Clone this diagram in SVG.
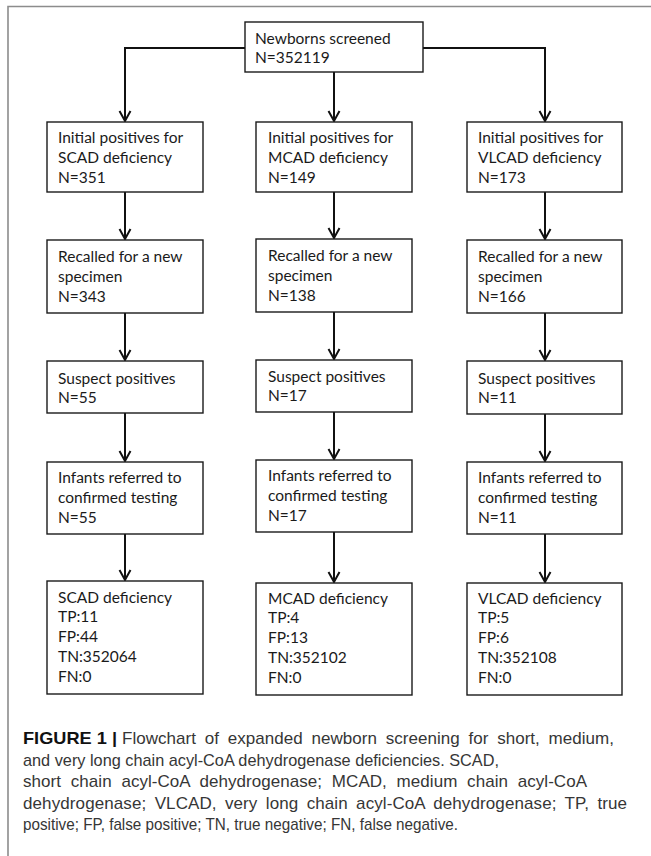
<svg xmlns="http://www.w3.org/2000/svg" width="651" height="856" viewBox="0 0 651 856">
<style>
.box{fill:#fff;stroke:#1a1a1a;stroke-width:1.4}
.t{font-family:Lato,"Liberation Sans",sans-serif;font-size:15.5px;fill:#1a1a1a}
.c{stroke:#111;stroke-width:2;fill:none}
.cap{font-family:"Liberation Sans",Arial,sans-serif;font-size:17px;fill:#363636}
.capb{font-family:"Liberation Sans",Arial,sans-serif;font-size:17px;font-weight:bold;fill:#111}
</style>
<defs>
<marker id="ah" markerUnits="userSpaceOnUse" markerWidth="20" markerHeight="20" refX="0" refY="0" orient="auto" overflow="visible">
<path d="M-10,-5.5 L0,0 L-10,5.5" fill="none" stroke="#111" stroke-width="2"/>
</marker>
</defs>
<rect width="651" height="856" fill="#fff"/>
<path d="M8,856 V6.5 H651" fill="none" stroke="#8c8c8c" stroke-width="1.6"/>

<g id="connectors">
<path class="c" d="M245,48 H125 V121" marker-end="url(#ah)"/>
<path class="c" d="M423,48 H545 V121" marker-end="url(#ah)"/>
<path class="c" d="M334,72 V121" marker-end="url(#ah)"/>
<path class="c" d="M125,192 V239" marker-end="url(#ah)"/>
<path class="c" d="M125,313 V360" marker-end="url(#ah)"/>
<path class="c" d="M125,413 V461" marker-end="url(#ah)"/>
<path class="c" d="M125,534 V580" marker-end="url(#ah)"/>
<path class="c" d="M334,192 V238" marker-end="url(#ah)"/>
<path class="c" d="M334,312 V359" marker-end="url(#ah)"/>
<path class="c" d="M334,412 V459" marker-end="url(#ah)"/>
<path class="c" d="M334,532 V582" marker-end="url(#ah)"/>
<path class="c" d="M545,192 V239" marker-end="url(#ah)"/>
<path class="c" d="M545,313 V360" marker-end="url(#ah)"/>
<path class="c" d="M545,414 V461" marker-end="url(#ah)"/>
<path class="c" d="M545,534 V582" marker-end="url(#ah)"/>
</g>

<g id="n_top"><rect class="box" x="245" y="22" width="178" height="50"/>
<text class="t" x="255" y="44">Newborns screened</text><text class="t" x="255" y="63">N=352119</text></g>

<g id="n_s1"><rect class="box" x="47" y="122" width="156" height="70"/>
<text class="t" x="58" y="143">Initial positives for</text><text class="t" x="58" y="163">SCAD deficiency</text><text class="t" x="58" y="183">N=351</text></g>
<g id="n_m1"><rect class="box" x="256" y="122" width="156" height="70"/>
<text class="t" x="268" y="143">Initial positives for</text><text class="t" x="268" y="163">MCAD deficiency</text><text class="t" x="268" y="183">N=149</text></g>
<g id="n_v1"><rect class="box" x="467" y="122" width="155" height="70"/>
<text class="t" x="478" y="143">Initial positives for</text><text class="t" x="478" y="163">VLCAD deficiency</text><text class="t" x="478" y="183">N=173</text></g>

<g id="n_s2"><rect class="box" x="47" y="240" width="156" height="73"/>
<text class="t" x="58" y="262">Recalled for a new</text><text class="t" x="58" y="282">specimen</text><text class="t" x="58" y="302">N=343</text></g>
<g id="n_m2"><rect class="box" x="256" y="239" width="156" height="73"/>
<text class="t" x="268" y="261">Recalled for a new</text><text class="t" x="268" y="281">specimen</text><text class="t" x="268" y="301">N=138</text></g>
<g id="n_v2"><rect class="box" x="467" y="240" width="155" height="73"/>
<text class="t" x="478" y="262">Recalled for a new</text><text class="t" x="478" y="282">specimen</text><text class="t" x="478" y="302">N=166</text></g>

<g id="n_s3"><rect class="box" x="47" y="361" width="156" height="52"/>
<text class="t" x="58" y="384">Suspect positives</text><text class="t" x="58" y="403">N=55</text></g>
<g id="n_m3"><rect class="box" x="256" y="360" width="156" height="52"/>
<text class="t" x="268" y="382">Suspect positives</text><text class="t" x="268" y="401">N=17</text></g>
<g id="n_v3"><rect class="box" x="467" y="361" width="155" height="53"/>
<text class="t" x="478" y="384">Suspect positives</text><text class="t" x="478" y="403">N=11</text></g>

<g id="n_s4"><rect class="box" x="47" y="462" width="156" height="72"/>
<text class="t" x="58" y="483">Infants referred to</text><text class="t" x="58" y="503">confirmed testing</text><text class="t" x="58" y="523">N=55</text></g>
<g id="n_m4"><rect class="box" x="256" y="460" width="156" height="72"/>
<text class="t" x="268" y="481">Infants referred to</text><text class="t" x="268" y="501">confirmed testing</text><text class="t" x="268" y="521">N=17</text></g>
<g id="n_v4"><rect class="box" x="467" y="462" width="155" height="72"/>
<text class="t" x="478" y="483">Infants referred to</text><text class="t" x="478" y="503">confirmed testing</text><text class="t" x="478" y="523">N=11</text></g>

<g id="n_s5"><rect class="box" x="47" y="581" width="156" height="113"/>
<text class="t" x="58" y="603">SCAD deficiency</text><text class="t" x="58" y="622">TP:11</text><text class="t" x="58" y="642">FP:44</text><text class="t" x="58" y="662">TN:352064</text><text class="t" x="58" y="682">FN:0</text></g>
<g id="n_m5"><rect class="box" x="256" y="583" width="156" height="112"/>
<text class="t" x="268" y="604">MCAD deficiency</text><text class="t" x="268" y="623">TP:4</text><text class="t" x="268" y="643">FP:13</text><text class="t" x="268" y="663">TN:352102</text><text class="t" x="268" y="683">FN:0</text></g>
<g id="n_v5"><rect class="box" x="467" y="583" width="155" height="112"/>
<text class="t" x="478" y="604">VLCAD deficiency</text><text class="t" x="478" y="623">TP:5</text><text class="t" x="478" y="643">FP:6</text><text class="t" x="478" y="663">TN:352108</text><text class="t" x="478" y="683">FN:0</text></g>

<g id="caption">
<text class="capb" x="23" y="744" textLength="94" lengthAdjust="spacingAndGlyphs">FIGURE 1 |</text>
<text class="cap" x="122" y="744" word-spacing="4" textLength="492" lengthAdjust="spacing">Flowchart of expanded newborn screening for short, medium,</text>
<text class="cap" x="23" y="766" textLength="476" lengthAdjust="spacingAndGlyphs">and very long chain acyl-CoA dehydrogenase deficiencies. SCAD,</text>
<text class="cap" x="23" y="787" word-spacing="5" textLength="564" lengthAdjust="spacing">short chain acyl-CoA dehydrogenase; MCAD, medium chain acyl-CoA</text>
<text class="cap" x="23" y="809" word-spacing="3.5" textLength="604" lengthAdjust="spacing">dehydrogenase; VLCAD, very long chain acyl-CoA dehydrogenase; TP, true</text>
<text class="cap" x="23" y="830" textLength="435" lengthAdjust="spacingAndGlyphs">positive; FP, false positive; TN, true negative; FN, false negative.</text>
</g>
</svg>
